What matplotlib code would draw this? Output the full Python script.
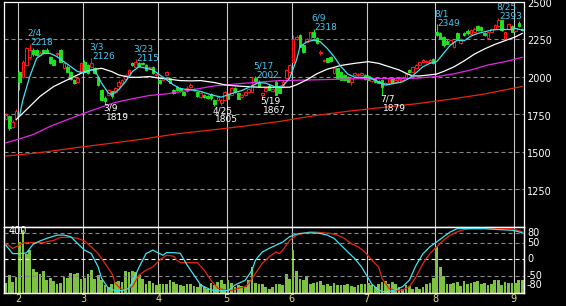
import numpy as np
import matplotlib
matplotlib.use("Agg")
import matplotlib.pyplot as plt
from matplotlib.patches import Rectangle
from matplotlib.transforms import ScaledTranslation

# trading days shown per month (end of Jan .. start of Sep)
month_labels = ["1", "2", "3", "4", "5", "6", "7", "8", "9"]
month_days = [4, 19, 22, 20, 19, 22, 20, 23, 3]

# daily candles (open, high, low, close)
opens = [1719, 1740, 1668, 1722, 2034, 2001, 2078, 2133, 2177, 2175,
         2144, 2177, 2180, 2133, 2111, 2150, 2177, 2056, 2067, 2034,
         1979, 1968, 2034, 2100, 2078, 2067, 2056, 2001, 1913, 1855,
         1880, 1902, 1895, 1935, 1955, 1985, 2012, 2089, 2067, 2089,
         2090, 2078, 2056, 2067, 2012, 1979, 1979, 2012, 1990, 1913,
         1930, 1924, 1895, 1902, 1930, 1920, 1895, 1865, 1880, 1870,
         1884, 1846, 1843, 1824, 1846, 1884, 1880, 1924, 1891, 1862,
         1875, 1895, 1900, 1990, 1968, 1880, 1902, 1940, 1905, 1968,
         1924, 1930, 1990, 2034, 2100, 2254, 2276, 2210, 2232, 2250,
         2299, 2257, 2155, 2103, 2122, 2133, 2023, 2056, 2034, 2012,
         1998, 1968, 2010, 2010, 2012, 2012, 2005, 1974, 1985, 1970,
         1979, 1946, 1960, 1985, 1962, 1968, 1980, 1990, 2045, 2034,
         2060, 2080, 2095, 2095, 2098, 2120, 2300, 2290, 2265, 2240,
         2215, 2195, 2288, 2225, 2290, 2305, 2283, 2300, 2335, 2330,
         2290, 2255, 2300, 2320, 2335, 2376, 2250, 2320, 2340, 2305,
         2360, 2320]
highs = [1758, 1745, 1712, 1785, 2040, 2110, 2195, 2218, 2190, 2185,
         2170, 2185, 2190, 2140, 2120, 2165, 2185, 2095, 2075, 2040,
         1985, 1995, 2095, 2110, 2085, 2126, 2065, 2005, 1920, 1870,
         1918, 1908, 1930, 1975, 1985, 2020, 2050, 2100, 2115, 2095,
         2095, 2085, 2070, 2072, 2020, 1985, 2005, 2040, 2000, 1920,
         1935, 1930, 1900, 1935, 1955, 1925, 1900, 1895, 1885, 1875,
         1890, 1850, 1865, 1850, 1905, 1890, 1930, 1930, 1895, 1885,
         1905, 1925, 1995, 2002, 1975, 1895, 1930, 1950, 1925, 1975,
         1930, 1975, 2050, 2085, 2276, 2276, 2285, 2215, 2260, 2300,
         2318, 2262, 2180, 2115, 2125, 2140, 2060, 2060, 2040, 2015,
         2005, 1995, 2030, 2025, 2030, 2018, 2012, 1995, 1990, 1975,
         1985, 1965, 1990, 1990, 1985, 1990, 2005, 2025, 2050, 2070,
         2085, 2100, 2115, 2110, 2115, 2125, 2349, 2300, 2270, 2250,
         2250, 2240, 2300, 2260, 2300, 2315, 2315, 2330, 2345, 2340,
         2295, 2300, 2325, 2350, 2393, 2380, 2300, 2360, 2345, 2330,
         2370, 2325]
lows = [1712, 1648, 1660, 1715, 1913, 1990, 2070, 2120, 2140, 2140,
        2138, 2150, 2160, 2085, 2075, 2140, 2095, 2050, 2030, 1975,
        1950, 1960, 2030, 2030, 2020, 2060, 2015, 1940, 1840, 1819,
        1870, 1860, 1890, 1930, 1945, 1975, 2005, 2070, 2060, 2065,
        2080, 2040, 2050, 2020, 2005, 1950, 1975, 2010, 1955, 1885,
        1905, 1895, 1870, 1898, 1925, 1905, 1865, 1860, 1860, 1850,
        1845, 1805, 1835, 1813, 1840, 1850, 1875, 1890, 1850, 1855,
        1870, 1890, 1895, 1960, 1935, 1867, 1898, 1910, 1900, 1875,
        1890, 1925, 1985, 2030, 2095, 2245, 2195, 2160, 2225, 2245,
        2260, 2218, 2145, 2095, 2095, 2100, 2018, 1985, 1975, 1975,
        1965, 1946, 2005, 2005, 2008, 1980, 1975, 1965, 1960, 1955,
        1879, 1940, 1955, 1955, 1958, 1965, 1975, 1985, 2025, 2030,
        2055, 2075, 2090, 2090, 2092, 2085, 2270, 2250, 2195, 2215,
        2210, 2190, 2245, 2220, 2270, 2280, 2278, 2295, 2305, 2305,
        2270, 2250, 2295, 2315, 2330, 2305, 2245, 2315, 2295, 2300,
        2330, 2305]
closes = [1747, 1662, 1700, 1775, 1968, 2100, 2188, 2177, 2150, 2144,
          2160, 2155, 2166, 2089, 2078, 2160, 2100, 2089, 2034, 1985,
          1957, 1990, 2089, 2034, 2023, 2089, 2023, 1946, 1846, 1835,
          1913, 1869, 1924, 1967, 1980, 2012, 2045, 2078, 2100, 2070,
          2085, 2045, 2065, 2023, 2015, 1957, 2001, 2034, 1957, 1891,
          1910, 1902, 1875, 1924, 1946, 1910, 1869, 1891, 1865, 1855,
          1858, 1820, 1862, 1846, 1900, 1852, 1924, 1895, 1852, 1880,
          1895, 1917, 1946, 1962, 1935, 1891, 1924, 1913, 1918, 1880,
          1891, 1968, 2045, 2078, 2254, 2265, 2199, 2166, 2254, 2295,
          2265, 2222, 2166, 2110, 2100, 2105, 2056, 1990, 1979, 1979,
          1968, 1990, 2023, 2020, 2027, 1984, 1979, 1987, 1965, 1958,
          1930, 1960, 1984, 1957, 1979, 1984, 1997, 2018, 2030, 2065,
          2078, 2095, 2108, 2103, 2111, 2090, 2276, 2254, 2210, 2220,
          2243, 2232, 2250, 2254, 2276, 2288, 2310, 2320, 2310, 2310,
          2276, 2295, 2320, 2345, 2375, 2310, 2295, 2350, 2300, 2325,
          2335, 2308]

volumes = [61, 107, 67, 100, 309, 380, 239, 263, 148, 127,
           117, 131, 77, 93, 71, 57, 61, 97, 93, 121,
           113, 121, 87, 93, 117, 137, 87, 107, 77, 46,
           36, 57, 67, 73, 67, 133, 127, 133, 127, 107,
           87, 57, 73, 61, 46, 57, 53, 57, 77, 67,
           53, 46, 40, 53, 57, 40, 36, 53, 36, 26,
           61, 46, 67, 81, 57, 81, 61, 36, 46, 40,
           36, 81, 158, 61, 57, 57, 36, 26, 36, 57,
           53, 46, 113, 87, 259, 133, 87, 77, 101, 53,
           61, 67, 73, 46, 57, 40, 61, 46, 46, 46,
           53, 40, 36, 46, 57, 57, 61, 46, 36, 57,
           67, 73, 57, 67, 53, 36, 26, 46, 40, 26,
           36, 26, 36, 53, 61, 93, 279, 158, 101, 53,
           57, 61, 65, 40, 71, 57, 61, 65, 71, 53,
           61, 46, 57, 77, 81, 46, 65, 61, 61, 61,
           77, 77]

# moving averages, read at sample days
ma_short_days = [4, 5, 7, 9, 11, 13, 15, 17, 19, 21, 23, 25, 26, 28, 30, 31, 33,
                 35, 37, 39, 41, 43, 45, 47, 49, 51, 54, 57, 60, 63, 65, 67, 69,
                 72, 74, 76, 79, 81, 83, 85, 86, 88, 90, 92, 94, 96, 98, 100, 102,
                 104, 106, 108, 110, 112, 114, 116, 118, 120, 122, 124, 126, 128,
                 130, 132, 134, 136, 138, 140, 142, 144, 146, 148, 149, 151]
ma_short = [1740, 1846, 2001, 2122, 2155, 2155, 2133, 2100, 2067, 2034, 2027,
            2045, 2045, 1957, 1891, 1880, 1913, 1968, 2034, 2067, 2056, 2045,
            2012, 1979, 1946, 1920, 1913, 1902, 1880, 1864, 1880, 1895, 1908,
            1939, 1961, 1957, 1930, 1939, 1990, 2111, 2199, 2232, 2243, 2232,
            2188, 2133, 2067, 2018, 1996, 1996, 1994, 1979, 1952, 1948, 1957,
            1966, 1990, 2027, 2067, 2089, 2100, 2155, 2210, 2243, 2239, 2270,
            2288, 2299, 2310, 2314, 2314, 2314, 2321, 2310]

ma_mid_days = [3, 6, 10, 14, 18, 22, 25, 28, 31, 33, 36, 39, 42, 45, 48, 51, 54,
               57, 61, 64, 67, 70, 74, 78, 83, 85, 88, 91, 94, 98, 102, 106, 109,
               112, 115, 117, 119, 121, 124, 126, 128, 131, 134, 137, 140, 143,
               146, 149, 151]
ma_mid = [1714, 1780, 1869, 1935, 1979, 2023, 2045, 2056, 2034, 2012, 1996,
          1996, 2001, 1990, 1983, 1974, 1972, 1974, 1961, 1946, 1939, 1935,
          1930, 1930, 1930, 1946, 1979, 2020, 2050, 2075, 2089, 2100, 2089,
          2067, 2045, 2023, 2005, 2005, 2012, 2018, 2035, 2065, 2105, 2150,
          2185, 2215, 2240, 2265, 2288]

ma_long_days = [0, 4, 8, 13, 18, 23, 28, 32, 37, 42, 47, 51, 55, 61, 70, 80,
                90, 106, 120, 126, 131, 136, 141, 146, 151]
ma_long = [1560, 1586, 1615, 1670, 1714, 1758, 1798, 1829, 1853, 1875, 1886,
           1900, 1915, 1939, 1957, 1974, 1979, 1988, 1990, 2001, 2019, 2045,
           2078, 2100, 2129]

ma_200_days = [0, 10, 20, 30, 40, 50, 60, 70, 80, 90, 100, 110, 120, 130, 140, 151]
ma_200 = [1472, 1495, 1526, 1555, 1585, 1620, 1645, 1672, 1702, 1740, 1770,
          1795, 1820, 1850, 1885, 1935]

# oscillator lines in lower panel
osc_fast_days = [0, 2, 4, 6, 8, 10, 12, 15, 17, 19, 21, 23, 25, 27, 28, 30, 32,
                 34, 36, 37, 39, 41, 43, 44, 46, 47, 49, 51, 53, 55, 57, 60, 62,
                 65, 67, 69, 70, 72, 73, 75, 77, 79, 81, 83, 85, 86, 88, 90, 92,
                 94, 96, 98, 100, 102, 104, 106, 107, 109, 110, 112, 114, 116, 118,
                 120, 122, 124, 126, 128, 130, 132, 136, 140, 144, 148, 149, 151]
osc_fast = [44, 18, 18, 20, 47, 57, 65, 75, 75, 70, 49, 29, 18, -23, -58, -89,
            -96, -96, -89, -69, -23, 18, 29, 23, 13, 21, 21, 19, -17, -48, -79,
            -94, -97, -96, -79, -69, -64, -33, -2, 23, 34, 44, 54, 70, 78, 80,
            82, 82, 80, 75, 65, 44, 23, 3, -23, -58, -76, -94, -99, -99, -94,
            -84, -64, -17, 18, 39, 54, 70, 85, 95, 95, 95, 92, 90, 88, 82]
osc_slow_days = [0, 2, 4, 5, 8, 11, 14, 16, 19, 21, 23, 25, 27, 29, 31, 32, 34,
                 36, 37, 39, 41, 43, 45, 47, 49, 50, 51, 56, 58, 60, 62, 64, 66,
                 68, 70, 71, 73, 75, 77, 79, 80, 81, 83, 85, 87, 89, 91, 93, 95,
                 97, 99, 101, 103, 105, 107, 109, 110, 112, 114, 116, 118, 120,
                 122, 124, 126, 128, 130, 132, 134, 136, 144, 148, 149, 151]
osc_slow = [49, 34, 44, 51, 52, 52, 59, 68, 68, 65, 57, 39, 18, -12, -43, -74,
            -94, -89, -84, -48, -33, -23, -2, 13, 10, -2, -10, -10, -33, -64,
            -89, -94, -96, -89, -84, -74, -43, -12, 8, 23, 18, 29, 59, 75, 80,
            85, 84, 82, 80, 75, 65, 49, 39, 23, -2, -23, -58, -89, -96, -94,
            -84, -53, -12, 18, 39, 59, 75, 85, 92, 95, 95, 95, 92, 85]

# labelled highs and lows: (label, day, price)
peaks = [("2/4", 7, 2218), ("3/3", 25, 2126), ("3/23", 38, 2115),
         ("5/17", 73, 2002), ("6/9", 90, 2318), ("8/1", 126, 2349),
         ("8/25", 144, 2393)]
troughs = [("3/9", 29, 1819), ("4/25", 61, 1805), ("5/19", 75, 1867),
           ("7/7", 110, 1879)]

price_ticks = [2500, 2250, 2000, 1750, 1500, 1250]
osc_ticks = [80, 50, 0, -50, -80]

UP = "#ff1a1a"
DOWN = "#22e022"
GRID = "#8a8a8a"
VLINE = "#c8c8c8"
HICOL = "#48c8f0"

n = len(closes)
days = np.arange(n)
month_starts = np.cumsum([0] + month_days[:-1])

fig = plt.figure(figsize=(5.66, 3.06), dpi=100, facecolor="black")
W, H = 566.0, 306.0
ax = fig.add_axes([4 / W, 1 - 227 / H, 520 / W, 225 / H], facecolor="black")
axv = fig.add_axes([4 / W, 1 - 293 / H, 520 / W, 66 / H], facecolor="black")
axo = axv.twinx()

xlim = (-0.53, n - 0.48)
for a in (ax, axv, axo):
    a.set_xlim(*xlim)
    a.set_xticks([])
    a.set_yticks([])
    for s in a.spines.values():
        s.set_color("white")
        s.set_linewidth(0.9)
ax.set_ylim(1000, 2497)
axv.set_ylim(0, 400)
axo.set_ylim(-103.5, 100)

# grid + month lines
dash = (0, (3.6, 2.7))
for v in price_ticks[1:]:
    ax.axhline(v, color=GRID, lw=0.8, ls=dash, zorder=1)
for m in month_starts[1:]:
    ax.axvline(m - 0.45, color=VLINE, lw=0.8, zorder=1)
    axv.axvline(m - 0.45, color=VLINE, lw=0.8, zorder=1)

# candles
w = 0.76
for i in range(n):
    o, h, l, c = opens[i], highs[i], lows[i], closes[i]
    up = c >= o
    col = UP if up else DOWN
    ax.vlines(i, l, h, color=col, lw=0.8, zorder=2)
    body_h = max(abs(c - o), 4)
    ax.add_patch(Rectangle((i - w / 2, min(o, c)), w, body_h,
                           facecolor="black" if up else col, edgecolor=col,
                           lw=0.7, zorder=3))

# moving averages
ax.plot(ma_200_days, ma_200, color="#e8260c", lw=0.9, zorder=4)
ax.plot(ma_long_days, ma_long, color="#e826e8", lw=0.9, zorder=4)
ax.plot(ma_mid_days, ma_mid, color="white", lw=0.9, zorder=4)
ax.plot(ma_short_days, ma_short, color="#40e4f0", lw=0.9, zorder=4)

# high / low annotations
for lab, d, p in peaks:
    ax.annotate(lab, (d, p), xytext=(-2, 10.5), textcoords="offset pixels",
                ha="left", va="center", fontsize=6.5, color=HICOL, zorder=6)
    ax.annotate(str(p), (d, p), xytext=(1, 1), textcoords="offset pixels",
                ha="left", va="center", fontsize=6.5, color=HICOL, zorder=6)
for lab, d, p in troughs:
    ax.annotate(lab, (d, p), xytext=(-2, -4.5), textcoords="offset pixels",
                ha="left", va="center", fontsize=6.5, color="white", zorder=6)
    ax.annotate(str(p), (d, p), xytext=(1, -13.5), textcoords="offset pixels",
                ha="left", va="center", fontsize=6.5, color="white", zorder=6)

# price labels on the right
shift = ScaledTranslation(0, -2.3 / 100, fig.dpi_scale_trans)
for v in price_ticks:
    ax.text(1 + 3 / 520, v, str(v), transform=ax.get_yaxis_transform() + shift,
            ha="left", va="center", fontsize=7, color="white", clip_on=False)

# lower panel: volume + oscillator
axv.bar(days, volumes, width=0.8, color="#7dc242", zorder=2)
for v in (80, 50, -50):
    axo.axhline(v, color=GRID, lw=0.8, ls=dash, zorder=1)
axo.axhline(0, color="white", lw=0.8, ls=dash, zorder=1)
axo.plot(osc_slow_days, osc_slow, color="#e8260c", lw=0.9, zorder=3)
axo.plot(osc_fast_days, osc_fast, color="#40e4f0", lw=0.9, zorder=3)
for v in osc_ticks:
    axo.text(1 + 3 / 520, v, str(v), transform=axo.get_yaxis_transform(),
             ha="left", va="center", fontsize=7, color="white", clip_on=False)
axo.text(0.008, 0.94, "400", transform=axo.transAxes, ha="left", va="center",
         fontsize=7, color="white")

# month labels
for m, lab in zip(month_starts[1:], month_labels[1:]):
    axo.text(m - 0.45, -0.09, lab, transform=axo.get_xaxis_transform(),
             ha="center", va="center", fontsize=7, color="#e6dc8a", clip_on=False)

fig.savefig("out.png", dpi=100, facecolor="black")
